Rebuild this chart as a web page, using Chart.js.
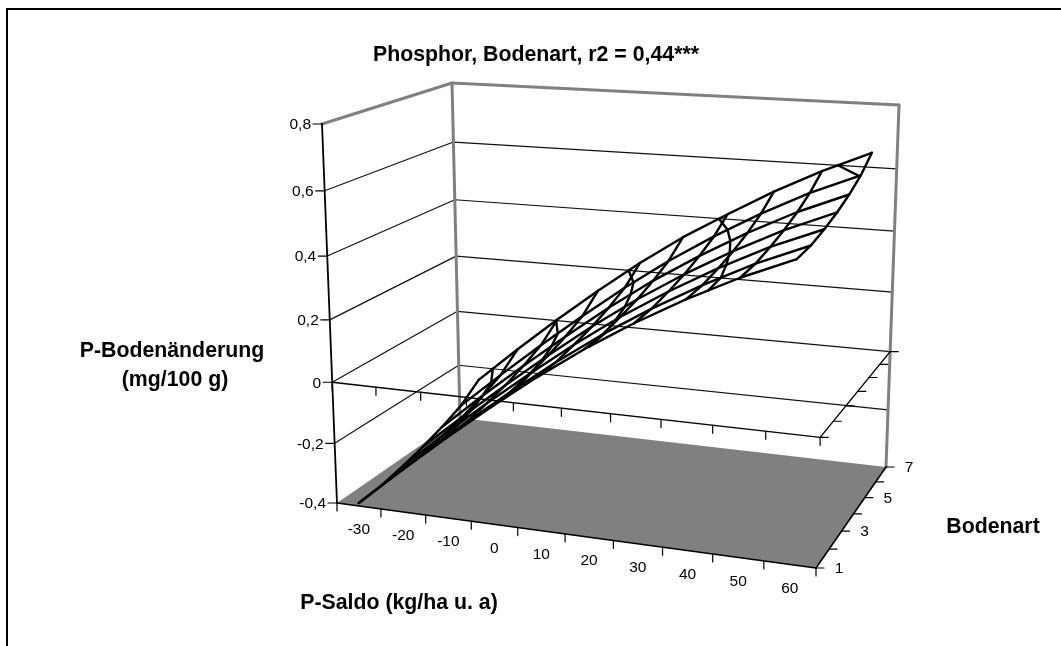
<!DOCTYPE html>
<html>
<head>
<meta charset="utf-8">
<title>Phosphor, Bodenart</title>
<script src="https://cdn.jsdelivr.net/npm/chart.js@4"></script>
<style>
    html, body { margin: 0; padding: 0; background: #fff; }
    canvas { display: block; }
</style>
</head>
<body>
<canvas id="surfaceChart" width="1061" height="646"></canvas>
<script>
/* ========= DATA ========= */

const saldoLabels = ["-30", "-20", "-10", "0", "10", "20", "30", "40", "50", "60"];
const bodenartValues = [1, 2, 3, 4, 5, 6, 7];
const bodenartLabels = ["1", "", "3", "", "5", "", "7"];
const zTicks = [-0.4, -0.2, 0, 0.2, 0.4, 0.6, 0.8];
const zLabels = ["-0,4", "-0,2", "0", "0,2", "0,4", "0,6", "0,8"];

// one row per Bodenart, one value per P-Saldo category
const bodenart1 = [-0.39, -0.262, -0.14, -0.024, 0.087, 0.19, 0.283, 0.368, 0.445, 0.512];
const bodenart2 = [-0.385, -0.257, -0.135, -0.019, 0.092, 0.195, 0.288, 0.373, 0.45, 0.516];
const bodenart3 = [-0.37, -0.242, -0.12, -0.004, 0.107, 0.21, 0.303, 0.388, 0.465, 0.53];
const bodenart4 = [-0.352, -0.224, -0.102, 0.014, 0.125, 0.228, 0.321, 0.406, 0.483, 0.548];
const bodenart5 = [-0.328, -0.2, -0.078, 0.038, 0.149, 0.252, 0.345, 0.43, 0.507, 0.572];
const bodenart6 = [-0.298, -0.17, -0.048, 0.068, 0.179, 0.282, 0.375, 0.46, 0.537, 0.602];
const bodenart7 = [-0.247, -0.118, 0.004, 0.12, 0.229, 0.329, 0.417, 0.502, 0.578, 0.646];
const surface = [bodenart1, bodenart2, bodenart3, bodenart4, bodenart5, bodenart6, bodenart7];

/* ========= 3D BOX ========= */

const floorCorners = [[337, 503], [816, 568], [886, 467], [460, 418]];
const topCorners = [[322, 124], [829, 158], [899, 105], [452, 83]];

// unit square to quad, the usual perspective mapping
function quadPoint(q, s, t) {
    const dx1 = q[1][0] - q[2][0], dx2 = q[3][0] - q[2][0], sx = q[0][0] - q[1][0] + q[2][0] - q[3][0];
    const dy1 = q[1][1] - q[2][1], dy2 = q[3][1] - q[2][1], sy = q[0][1] - q[1][1] + q[2][1] - q[3][1];
    const det = dx1 * dy2 - dx2 * dy1;
    const g = (sx * dy2 - dx2 * sy) / det;
    const h = (dx1 * sy - sx * dy1) / det;
    const w = g * s + h * t + 1;
    return [
        (q[1][0] - q[0][0] + g * q[1][0]) * s / w + (q[3][0] - q[0][0] + h * q[3][0]) * t / w + q[0][0] / w,
        (q[1][1] - q[0][1] + g * q[1][1]) * s / w + (q[3][1] - q[0][1] + h * q[3][1]) * t / w + q[0][1] / w
    ];
}

// s along P-Saldo, t along Bodenart, z in axis units
function project(s, t, z) {
    const h = (z + 0.4) / 1.2;
    const k = h * 0.935 / (1 - 0.065 * h);
    const a = quadPoint(floorCorners, s, t);
    const b = quadPoint(topCorners, s, t);
    return { x: a[0] + (b[0] - a[0]) * k, y: a[1] + (b[1] - a[1]) * k };
}

const saldoPos = i => (i + 0.5) / saldoLabels.length;
const bodenartPos = j => j / (bodenartValues.length - 1);

/* ========= DATASETS ========= */

const datasets = [];

function addLine(points, color, width, fill) {
    datasets.push({
        data: points,
        showLine: true,
        borderColor: color,
        borderWidth: width,
        borderJoinStyle: "round",
        borderCapStyle: "round",
        backgroundColor: fill || "transparent",
        fill: fill ? "shape" : false,
        pointRadius: 0,
        tension: 0
    });
}

// walls
zTicks.slice(1, -1).forEach(z => {
    addLine([project(0, 0, z), project(0, 1, z), project(1, 1, z)], "#111", 1.2);
});
addLine([project(0, 0, 0.8), project(0, 1, 0.8), project(1, 1, 0.8)], "#808080", 3);
addLine([project(0, 1, -0.4), project(0, 1, 0.8)], "#808080", 3);
addLine([project(1, 1, -0.4), project(1, 1, 0.8)], "#808080", 3);

// axes crossing at z = 0
addLine([project(0, 0, 0), project(1, 0, 0), project(1, 1, 0)], "#000", 1.4);
saldoLabels.concat([""]).forEach((l, i) => {
    const p = project(i / saldoLabels.length, 0, 0);
    addLine([p, { x: p.x, y: p.y + 8 }], "#000", 1.2);
});
bodenartValues.forEach((b, j) => {
    const p = project(1, bodenartPos(j), 0);
    addLine([p, { x: p.x + 8, y: p.y }], "#000", 1.2);
});

// floor
addLine([project(0, 0, -0.4), project(1, 0, -0.4), project(1, 1, -0.4), project(0, 1, -0.4), project(0, 0, -0.4)],
    "#808080", 0, "#808080");
addLine([project(0, 0, -0.4), project(1, 0, -0.4), project(1, 1, -0.4)], "#000", 1.6);
saldoLabels.concat([""]).forEach((l, i) => {
    const p = project(i / saldoLabels.length, 0, -0.4);
    addLine([p, { x: p.x, y: p.y + 8 }], "#000", 1.2);
});
bodenartValues.forEach((b, j) => {
    const p = project(1, bodenartPos(j), -0.4);
    addLine([p, { x: p.x + 8, y: p.y }], "#000", 1.2);
});

// vertical axis
addLine([project(0, 0, -0.4), project(0, 0, 0.8)], "#000", 1.8);
zTicks.forEach(z => {
    const p = project(0, 0, z);
    addLine([{ x: p.x - 9, y: p.y }, p], "#000", 1.2);
});

// surface mesh
surface.forEach((row, j) => {
    addLine(row.map((z, i) => project(saldoPos(i), bodenartPos(j), z)), "#000", 2.4);
});
saldoLabels.forEach((l, i) => {
    addLine(surface.map((row, j) => project(saldoPos(i), bodenartPos(j), row[i])), "#000", 2.4);
});

// contour lines where the surface crosses a z gridline
zTicks.forEach(level => {
    const points = [];
    surface.forEach((row, j) => {
        for (let i = 0; i < row.length - 1; i++) {
            if (row[i] <= level && row[i + 1] > level) {
                const f = (level - row[i]) / (row[i + 1] - row[i]);
                points.push(project((i + 0.5 + f) / saldoLabels.length, bodenartPos(j), level));
            }
        }
    });
    if (points.length > 1) addLine(points, "#000", 2.4);
});

/* ========= TEXT AND FRAME ========= */

const textPlugin = {
    id: "texts",
    afterDraw(chart) {
        const c = chart.ctx;
        c.save();

        c.strokeStyle = "#000";
        c.lineWidth = 2;
        c.beginPath();
        c.moveTo(7, 646);
        c.lineTo(7, 9);
        c.lineTo(1061, 9);
        c.stroke();

        c.fillStyle = "#000";
        c.textBaseline = "middle";

        c.font = "15.5px 'Liberation Sans'";
        c.textAlign = "right";
        zTicks.forEach((z, n) => {
            const p = project(0, 0, z);
            c.fillText(zLabels[n], p.x - 11, p.y + 1);
        });
        c.textAlign = "center";
        saldoLabels.forEach((l, i) => {
            const p = project(saldoPos(i), 0, -0.4);
            c.fillText(l, p.x, p.y + 24);
        });
        bodenartLabels.forEach((l, j) => {
            const p = project(1, bodenartPos(j), -0.4);
            c.fillText(l, p.x + 23, p.y + 1);
        });

        c.font = "bold 21.3px 'Liberation Sans'";
        c.fillText("Phosphor, Bodenart, r2 = 0,44***", 536, 55);
        c.fillText("P-Bodenänderung", 172, 351);
        c.fillText("(mg/100 g)", 175, 380);
        c.fillText("P-Saldo (kg/ha u. a)", 399, 603);
        c.fillText("Bodenart", 993, 527);

        c.restore();
    }
};

/* ========= CHART ========= */

new Chart(document.getElementById("surfaceChart"), {
    type: "scatter",
    data: { datasets: datasets.slice().reverse() },
    options: {
        responsive: false,
        animation: false,
        layout: { padding: 0 },
        plugins: { legend: { display: false }, tooltip: { enabled: false }, title: { display: false } },
        scales: {
            x: { type: "linear", min: 0, max: 1061, display: false },
            y: { type: "linear", min: 0, max: 646, reverse: true, display: false }
        }
    },
    plugins: [textPlugin]
});
</script>
</body>
</html>
